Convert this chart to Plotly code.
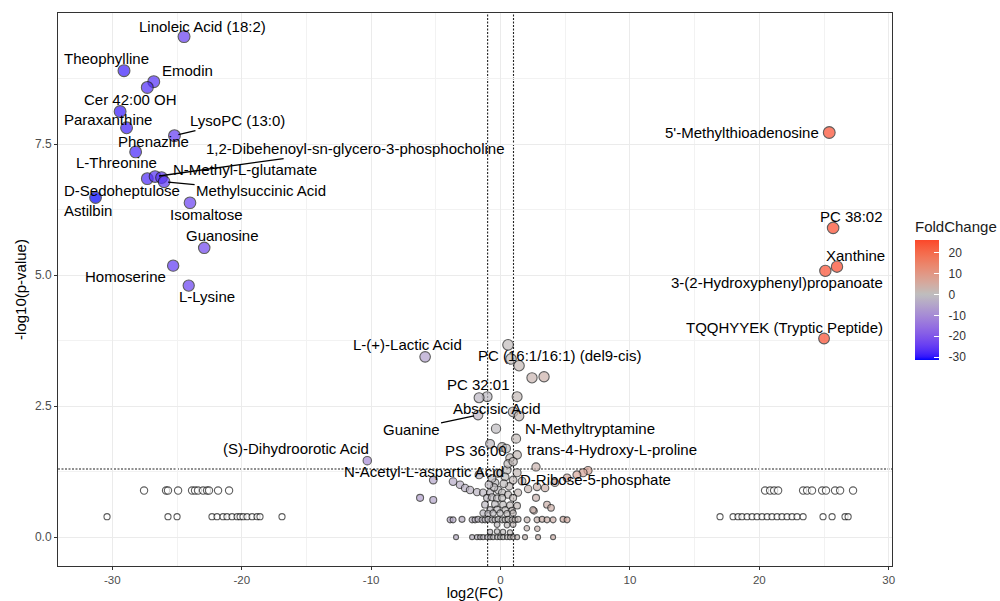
import numpy as np
import plotly.graph_objects as go

# ---------------------------------------------------------------- data
# labelled metabolites: log2 fold change and -log10(p)
label_names = [
    "Linoleic Acid (18:2)", "Theophylline", "Emodin", "Cer 42:00 OH",
    "Paraxanthine", "Phenazine", "L-Threonine", "LysoPC (13:0)",
    "D-Sedoheptulose", "1,2-Dibehenoyl-sn-glycero-3-phosphocholine",
    "N-Methyl-L-glutamate", "Methylsuccinic Acid", "Astilbin", "Isomaltose",
    "Guanosine", "Homoserine", "L-Lysine",
    "5'-Methylthioadenosine", "PC 38:02", "Xanthine",
    "3-(2-Hydroxyphenyl)propanoate", "TQQHYYEK (Tryptic Peptide)",
    "L-(+)-Lactic Acid", "PC (16:1/16:1) (del9-cis)", "PC 32:01",
    "Abscisic Acid", "Guanine", "N-Methyltryptamine", "PS 36:00",
    "trans-4-Hydroxy-L-proline", "(S)-Dihydroorotic Acid",
    "N-Acetyl-L-aspartic Acid", "D-Ribose-5-phosphate",
]
label_log2fc = [
    -24.46, -29.1, -26.8, -27.3,
    -29.4, -28.9, -28.2, -25.2,
    -27.3, -26.7,
    -26.2, -26.0, -31.3, -24.0,
    -22.9, -25.3, -24.1,
    25.4, 25.7, 26.0,
    25.1, 25.0,
    -5.83, 0.58, -1.66,
    1.28, -1.74, 1.20, -0.81,
    1.28, -10.3,
    0.58, 0.97,
]
label_neglogp = [
    9.55, 8.90, 8.69, 8.58,
    8.12, 7.81, 7.35, 7.66,
    6.84, 6.88,
    6.86, 6.78, 6.48, 6.38,
    5.52, 5.18, 4.80,
    7.72, 5.90, 5.16,
    5.08, 3.79,
    3.44, 3.67, 2.66,
    2.68, 2.33, 1.88, 1.78,
    1.57, 1.46,
    1.40, 1.44,
]

# remaining metabolites, coloured by fold change
other_log2fc = [
    0.81, 1.43, 2.43, 3.36, -1.04, 0.97, 1.43, -0.35, 0.12, 0.43, 0.73, 2.74,
    0.50, 6.76, 6.38, 5.90, 5.14, 4.20, 3.44, 2.82, 2.13, 1.66, 1.28, 0.97,
    -0.19, -1.66, -5.20, -3.67, -3.13, -2.74, -2.36, -1.82, -1.35, -0.81,
    -0.43, -0.19, 0.12, 0.58, 1.35, -6.22, -5.20, 2.74, 2.59, 3.59, 3.90, 1.28,
    -0.66, 0.35, -0.50, 0.66, 0.25, -0.90,
    -1.04, -0.66, -0.27, 0.12, 0.97,
    -1.20, -0.43, 0.19, 0.73,
    -0.81, -0.27, 0.35, 0.89, 2.51,
    -1.35, -0.97, -0.58, -0.04, 0.50, 0.97,
    -3.90, -3.67, -2.98, -2.20, -1.97, -1.74, -1.43, -1.20, -0.97, -0.66,
    -0.43, -0.19, 0.12, 0.35, 0.58, 0.89, 1.12, 1.35, 2.05, 2.82, 3.21, 3.59,
    4.06, 4.83, 5.14,
    -0.27, 0.50, 0.97, 2.03, 2.84,
    -0.81, -0.27, 0.19, 0.73,
    -3.44, -2.20, -1.82, -1.58, -1.35, -1.04, -0.81, -0.58, -0.27, -0.04,
    0.19, 0.50, 0.73, 0.97, 1.28, 1.89, 2.90, 4.06,
]
other_neglogp = [
    3.40, 3.27, 3.04, 3.06, 2.68, 2.39, 2.31, 2.07, 1.72, 1.69, 1.51, 1.34,
    1.28, 1.27, 1.23, 1.19, 1.13, 1.04, 0.94, 0.96, 0.92, 1.07, 1.23, 1.09,
    1.22, 1.19, 1.09, 1.06, 1.00, 0.94, 0.90, 0.86, 0.85, 0.85,
    1.04, 0.90, 0.85, 0.81, 0.85, 0.75, 0.71, 0.75, 0.50, 0.62, 0.56, 0.60,
    1.12, 1.15, 0.95, 0.97, 1.02, 1.00,
    0.75, 0.76, 0.74, 0.75, 0.75,
    0.62, 0.63, 0.62, 0.61,
    0.52, 0.53, 0.52, 0.51, 0.52,
    0.46, 0.45, 0.46, 0.46, 0.45, 0.46,
    0.33, 0.33, 0.34, 0.33, 0.33, 0.34, 0.33, 0.33, 0.34, 0.33,
    0.33, 0.34, 0.33, 0.33, 0.34, 0.33, 0.33, 0.34, 0.33, 0.33, 0.34, 0.33,
    0.33, 0.34, 0.33,
    0.24, 0.23, 0.24, 0.17, 0.16,
    0.10, 0.11, 0.10, 0.09,
    0.00, 0.00, 0.00, 0.00, 0.00, 0.00, 0.00, 0.00, 0.00, 0.00,
    0.00, 0.00, 0.00, 0.00, 0.00, 0.00, 0.00, 0.00,
]

# metabolites without a fold-change colour (open markers)
open_log2fc = [
    -27.55, -25.85, -25.70, -24.92, -23.84, -23.61, -23.38, -22.99, -22.68,
    -22.53, -21.83, -20.98,
    -30.41, -25.70, -25.00, -22.30, -21.91, -21.45, -21.14, -20.75, -20.36,
    -20.13, -19.90, -19.59, -19.20, -18.82, -18.59, -16.89,
    20.44, 20.83, 21.14, 21.45, 23.38, 23.69, 24.07, 24.85, 25.15, 25.85,
    26.24, 27.24,
    16.96, 17.97, 18.35, 18.66, 19.05, 19.44, 19.82, 20.21, 20.60, 20.98,
    21.37, 21.75, 22.14, 22.53, 22.91, 23.38, 24.92, 25.62, 26.62, 26.86,
]
open_neglogp = [0.89] * 12 + [0.39] * 16 + [0.89] * 12 + [0.39] * 20

FC_CUTOFF = 1.0
P_CUTOFF = 0.05

x_ticks = [-30, -20, -10, 0, 10, 20, 30]
x_minor = [-25, -15, -5, 5, 15, 25]
y_ticks = [0.0, 2.5, 5.0, 7.5]
y_minor = [1.25, 3.75, 6.25, 8.75]
cbar_ticks = [-30, -20, -10, 0, 10, 20]

# ---------------------------------------------------------------- label placement
# text centre offset from the point in screen pixels (dx right, dy down), leader line
LABEL_OFFSETS = {
    "Linoleic Acid (18:2)": (18, -10, False),
    "Theophylline": (-18, -12, False),
    "Emodin": (34, -11, False),
    "Cer 42:00 OH": (-17, 12, False),
    "Paraxanthine": (-12, 8, False),
    "Phenazine": (27, 14, False),
    "L-Threonine": (-19, 11, False),
    "LysoPC (13:0)": (63, -15, True),
    "D-Sedoheptulose": (-25, 12, False),
    "1,2-Dibehenoyl-sn-glycero-3-phosphocholine": (200, -28, True),
    "N-Methyl-L-glutamate": (83, -8, False),
    "Methylsuccinic Acid": (97, 9, True),
    "Astilbin": (-8, 13, False),
    "Isomaltose": (17, 12, False),
    "Guanosine": (18, -12, False),
    "Homoserine": (-48, 11, False),
    "L-Lysine": (18, 11, False),
    "5'-Methylthioadenosine": (-87, 0, False),
    "PC 38:02": (18, -11, False),
    "Xanthine": (18, -11, False),
    "3-(2-Hydroxyphenyl)propanoate": (-48, 12, False),
    "TQQHYYEK (Tryptic Peptide)": (-40, -11, False),
    "L-(+)-Lactic Acid": (-18, -12, False),
    "PC (16:1/16:1) (del9-cis)": (51, 11, False),
    "PC 32:01": (-1, -13, False),
    "Abscisic Acid": (-20, 12, False),
    "Guanine": (-67, 14, True),
    "N-Methyltryptamine": (74, -10, False),
    "PS 36:00": (-14, 7, False),
    "trans-4-Hydroxy-L-proline": (95, -5, False),
    "(S)-Dihydroorotic Acid": (-71, -12, False),
    "N-Acetyl-L-aspartic Acid": (-84, 8, False),
    "D-Ribose-5-phosphate": (82, 18, False),
}

FONT = "Liberation Sans, Arial, Helvetica, sans-serif"


# ---------------------------------------------------------------- diverging palette (CIELAB)
def _to_lab(rgb):
    c = np.asarray(rgb, float) / 255.0
    lin = np.where(c <= 0.04045, c / 12.92, ((c + 0.055) / 1.055) ** 2.4)
    m = np.array([[0.4124, 0.3576, 0.1805],
                  [0.2126, 0.7152, 0.0722],
                  [0.0193, 0.1192, 0.9505]])
    xyz = m @ lin / np.array([0.95047, 1.0, 1.08883])
    f = np.where(xyz > 0.008856, np.cbrt(xyz), 7.787 * xyz + 16 / 116)
    return np.array([116 * f[1] - 16, 500 * (f[0] - f[1]), 200 * (f[1] - f[2])])


def _from_lab(lab):
    L, a, b = lab
    fy = (L + 16) / 116
    fx = fy + a / 500
    fz = fy - b / 200
    f = np.array([fx, fy, fz])
    xyz = np.where(f ** 3 > 0.008856, f ** 3, (f - 16 / 116) / 7.787)
    xyz = xyz * np.array([0.95047, 1.0, 1.08883])
    minv = np.array([[3.2406, -1.5372, -0.4986],
                     [-0.9689, 1.8758, 0.0415],
                     [0.0557, -0.2040, 1.0570]])
    lin = np.clip(minv @ xyz, 0, 1)
    c = np.where(lin <= 0.0031308, 12.92 * lin, 1.055 * lin ** (1 / 2.4) - 0.055)
    r, g, bb = (np.clip(c, 0, 1) * 255).round().astype(int)
    return f"rgb({r},{g},{bb})"


LOW, MID, HIGH = _to_lab((0, 0, 255)), _to_lab((190, 190, 190)), _to_lab((255, 0, 0))

all_fc = np.array(label_log2fc + other_log2fc)
cmin, cmax = float(all_fc.min()), float(all_fc.max())
half = max(abs(cmin), abs(cmax))

colorscale = []
for t in np.linspace(0, 1, 41):
    v = cmin + t * (cmax - cmin)
    s = 0.5 + v / (2 * half)
    if s < 0.5:
        lab = LOW + (MID - LOW) * (s / 0.5)
    else:
        lab = MID + (HIGH - MID) * ((s - 0.5) / 0.5)
    colorscale.append([float(t), _from_lab(lab)])


def marker_size(p):
    p = np.asarray(p, float)
    return 6.0 + 7.0 * (1 - np.exp(-p / 2.2)) - 1.0


# ---------------------------------------------------------------- figure
fig = go.Figure()

fig.add_trace(go.Scatter(
    x=open_log2fc, y=open_neglogp, mode="markers", showlegend=False,
    marker=dict(size=marker_size(open_neglogp), color="white",
                line=dict(color="#1a1a1a", width=1.1)),
))

fig.add_trace(go.Scatter(
    x=other_log2fc, y=other_neglogp, mode="markers", showlegend=False,
    marker=dict(size=marker_size(other_neglogp), color=other_log2fc,
                colorscale=colorscale, cmin=cmin, cmax=cmax, showscale=False,
                line=dict(color="#1a1a1a", width=1.1)),
))

fig.add_trace(go.Scatter(
    x=label_log2fc, y=label_neglogp, mode="markers", showlegend=False,
    marker=dict(
        size=marker_size(label_neglogp), color=label_log2fc,
        colorscale=colorscale, cmin=cmin, cmax=cmax, showscale=True,
        line=dict(color="#1a1a1a", width=1.1),
        colorbar=dict(
            title=dict(text="FoldChange", side="top",
                       font=dict(size=15, color="#1a1a1a", family=FONT)),
            x=1.0276, xanchor="left", xpad=0,
            y=0.501, yanchor="middle", ypad=0,
            len=142, lenmode="pixels", thickness=24, thicknessmode="pixels",
            outlinewidth=0,
            tickvals=cbar_ticks, ticktext=["  " + str(v) for v in cbar_ticks],
            ticks="inside", ticklen=5, tickcolor="white", tickwidth=1,
            tickfont=dict(size=12, color="#333333", family=FONT),
        ),
    ),
))

# significance thresholds
thr_y = -np.log10(P_CUTOFF)
line_style = dict(color="#222222", width=1.1, dash="2px,1.5px")
for xv in (-FC_CUTOFF, FC_CUTOFF):
    fig.add_shape(type="line", xref="x", yref="paper", x0=xv, x1=xv, y0=0, y1=1,
                  line=line_style, layer="below")
fig.add_shape(type="line", xref="paper", yref="y", x0=0, x1=1, y0=thr_y, y1=thr_y,
              line=line_style, layer="below")

# metabolite labels
for name, fc, p in zip(label_names, label_log2fc, label_neglogp):
    dx, dy, seg = LABEL_OFFSETS[name]
    common = dict(x=fc, y=p, text=name, font=dict(size=15, color="black", family=FONT))
    if seg:
        fig.add_annotation(**common, showarrow=True, ax=dx, ay=dy, arrowhead=0,
                           arrowwidth=1.3, arrowcolor="black", standoff=4)
    else:
        fig.add_annotation(**common, showarrow=False, xshift=dx, yshift=-dy)

axis_common = dict(
    showline=True, linecolor="#333333", linewidth=1, mirror=True,
    ticks="outside", ticklen=3, tickcolor="#333333", tickwidth=1,
    showgrid=True, gridcolor="#ebebeb", gridwidth=1.2, zeroline=False,
    automargin=False,
)

fig.update_xaxes(
    range=[-34.2, 30.25], tickvals=x_ticks, ticktext=[str(v) for v in x_ticks],
    tickfont=dict(size=11.5, color="#4d4d4d", family=FONT),
    minor=dict(tickvals=x_minor, showgrid=True, gridcolor="#f2f2f2", gridwidth=0.8, ticks=""),
    title=dict(text="log2(FC)", font=dict(size=14.5, color="black", family=FONT), standoff=1),
    **axis_common,
)
fig.update_yaxes(
    range=[-0.55, 10.0], tickvals=y_ticks, ticktext=[f"{v:.1f}" for v in y_ticks],
    tickfont=dict(size=12, color="#4d4d4d", family=FONT),
    minor=dict(tickvals=y_minor, showgrid=True, gridcolor="#f2f2f2", gridwidth=0.8, ticks=""),
    title=dict(text="-log10(p-value)", font=dict(size=15, color="black", family=FONT), standoff=4),
    **axis_common,
)

fig.update_layout(
    width=1000, height=601,
    margin=dict(l=58, r=108, t=13, b=35, autoexpand=False),
    paper_bgcolor="white", plot_bgcolor="white",
    font=dict(family=FONT),
)

fig.write_html("out.html")
